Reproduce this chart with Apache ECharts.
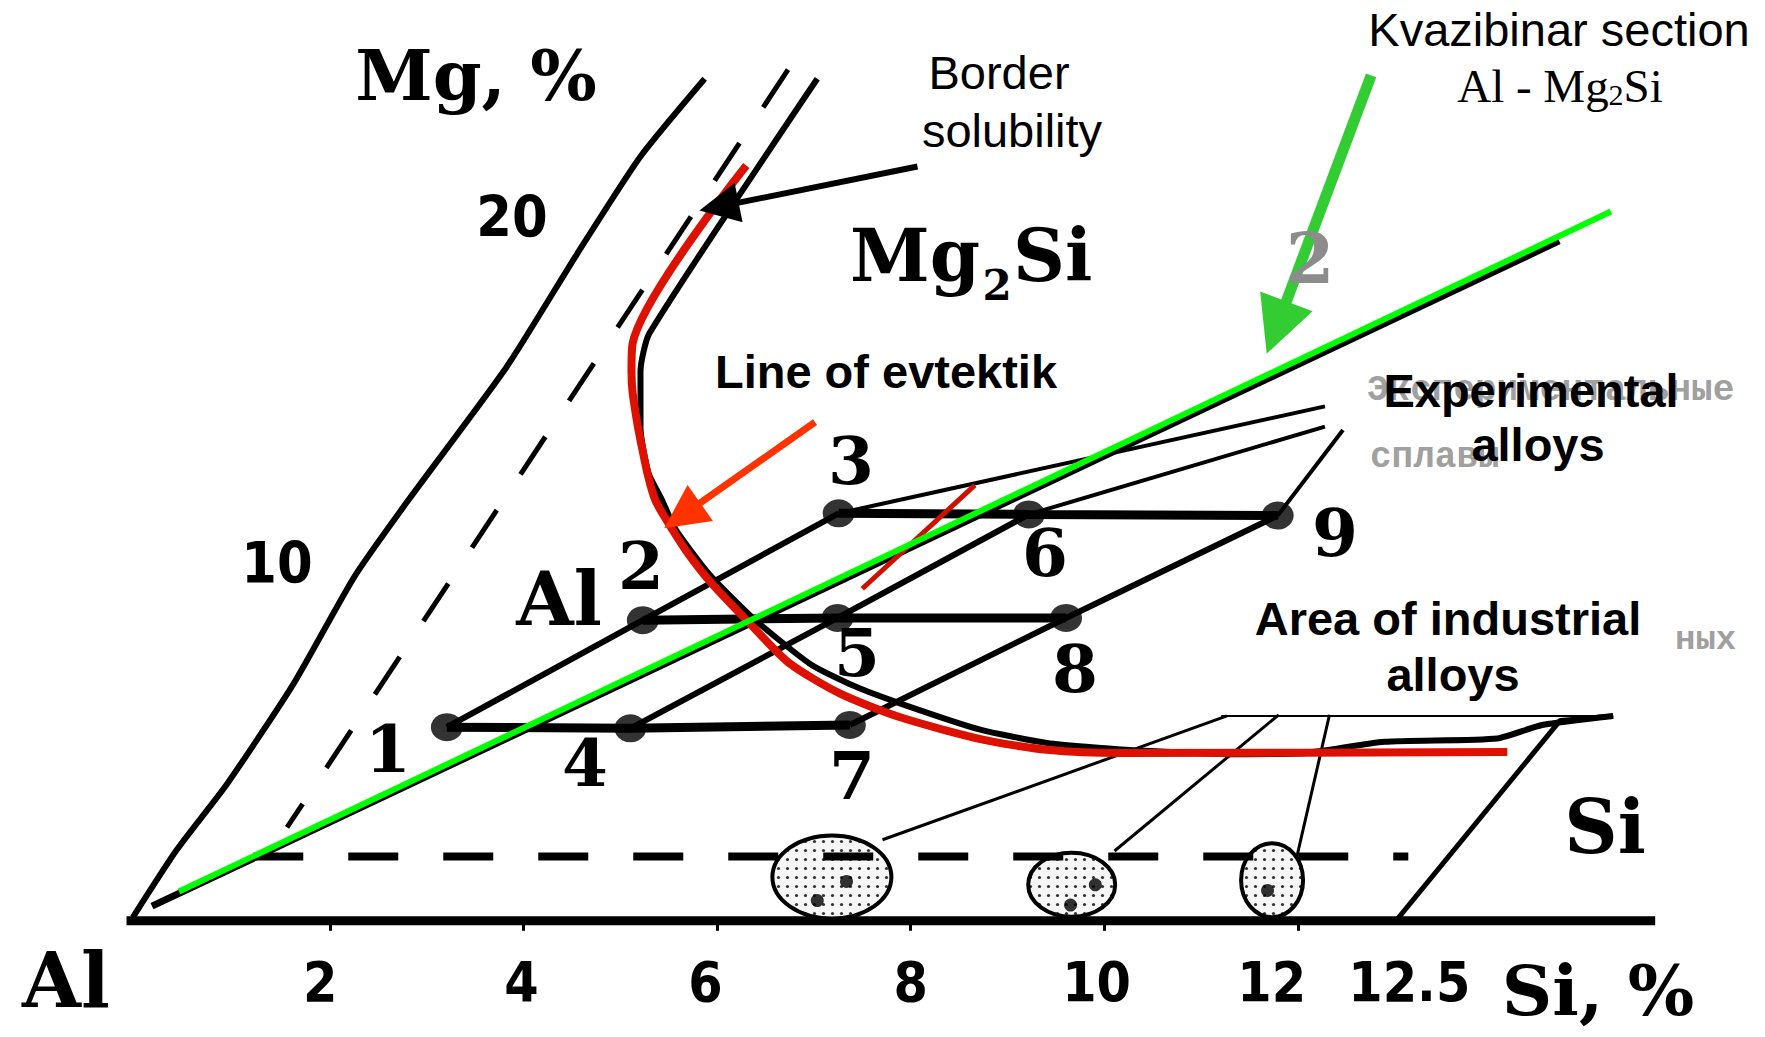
<!DOCTYPE html>
<html><head><meta charset="utf-8">
<script src="https://cdn.jsdelivr.net/npm/echarts@6/dist/echarts.min.js"></script>
<style>html,body{margin:0;padding:0;background:#fff}#c{width:1765px;height:1037px}</style>
</head><body><div id="c"></div>
<script>
// Coordinates: x = Si, % ; y = height above the Si axis, in the same %-units.
const siTicks = [2, 4, 6, 8, 10, 12];
const tickLabelText = ['2', '4', '6', '8', '10', '12', '12.5'];
const tickLabelAt = [1.90, 3.98, 5.88, 8.00, 9.92, 11.73, 13.15];

const siAxisLine = [[-0.10, 0], [15.69, 0]];
const mgAxisLine = [[-0.035, 0.035], [0.419, 0.733], [0.942, 1.419], [1.628, 2.453], [2.256, 3.558], [2.814, 4.349], [3.826, 5.721], [4.558, 6.895], [5.209, 7.895], [5.872, 8.698]];
const solubilityLine = [[6.733, 8.791], [1.558, 0.965]];
const eutecticBlack = [[7.035, 8.698], [5.302, 6.070], [5.209, 5.674], [5.209, 5.093], [5.291, 4.628], [5.430, 4.349], [5.570, 4.047], [5.919, 3.581], [6.384, 3.116], [6.965, 2.651], [7.430, 2.419], [7.895, 2.244], [8.709, 1.977], [9.407, 1.837], [10.221, 1.767], [11.384, 1.721], [12.081, 1.733], [12.895, 1.849], [14.058, 1.884], [14.523, 2.023], [15.256, 2.116]];
const eutecticRed = [[6.302, 7.802], [5.128, 5.965], [5.116, 5.674], [5.128, 5.453], [5.174, 5.151], [5.209, 4.965], [5.279, 4.628], [5.360, 4.349], [5.477, 4.140], [5.686, 3.814], [5.942, 3.488], [6.372, 3.035], [6.744, 2.663], [7.267, 2.349], [7.884, 2.105], [8.744, 1.872], [9.407, 1.767], [10.174, 1.733], [14.163, 1.744]];
const sectionBlack = [[0.163, 0.151], [14.698, 7.023]];
const sectionGreen = [[0.442, 0.302], [15.233, 7.326]];

const alloyNames = ['1', '2', '3', '4', '5', '6', '7', '8', '9'];
const alloyPoints = [[3.209, 2.000], [5.233, 3.105], [7.256, 4.209], [5.105, 1.988], [7.244, 3.128], [9.221, 4.198], [7.372, 2.023], [9.605, 3.128], [11.791, 4.186]];
const rows = [[0, 3, 6], [1, 4, 7], [2, 5, 8]];
const diagonals = [[0, 1, 2], [3, 4, 5], [6, 7, 8]];
const expLeaders = [[2, [12.279, 5.314]], [5, [12.279, 5.105]], [8, [12.465, 5.070]]];

const indLeaders = [[[7.709, 0.837], [11.267, 2.116]], [[10.105, 0.721], [11.802, 2.128]], [[11.965, 0.558], [12.326, 2.128]]];
const line125 = [[13.012, 0], [14.709, 2.070], [15.256, 2.116]];
const topEdge = [[11.209, 2.116], [15.256, 2.116]];
const siDashed = [[1.209, 0.663], [13.14, 0.663]];
const ovalCenters = [[7.186, 0.453], [9.663, 0.372], [11.733, 0.419]];
const ovalSpots = [[7.337, 0.407], [7.035, 0.209], [9.907, 0.372], [9.651, 0.163], [11.686, 0.314]];

const borderArrow = [[8.070, 7.791], [6.020, 7.377]];
const sectionArrow = [[12.756, 8.733], [11.779, 6.128]];
const eutecticArrow = [[7.012, 5.151], [5.640, 4.186]];
const redMark = [[8.663, 4.50], [7.50, 3.43]];

// ---- styles ----
const ovalSizes = [[119, 83], [87, 64], [62, 74]];
const SERIF_B = '"DejaVu Serif", "Liberation Serif", serif';
const NUMF = '"DejaVu Sans Condensed", "Liberation Sans Narrow", "DejaVu Sans", sans-serif';
const SANS = '"Liberation Sans", Arial, sans-serif';

// stipple pattern for the Si particles
const dot = document.createElement('canvas');
dot.width = 9; dot.height = 9;
(function () {
  const g = dot.getContext('2d');
  g.fillStyle = '#f6f6f6'; g.fillRect(0, 0, 9, 9);
  g.fillStyle = '#333333'; g.beginPath(); g.arc(4.5, 4.5, 1.6, 0, Math.PI * 2); g.fill();
})();
const dotUrl = dot.toDataURL('image/png');

function line(data, color, width, z, extra) {
  return Object.assign({ type: 'line', data: data, symbol: 'none', showSymbol: false, silent: true, clip: false,
    lineStyle: { color: color, width: width }, z: z, animation: false }, extra || {});
}
function arrow(coords, color, width, size, z) {
  return { type: 'lines', coordinateSystem: 'cartesian2d', silent: true, clip: false,
    symbol: ['none', 'triangle'], symbolSize: size, z: z, animation: false,
    lineStyle: { color: color, width: width, opacity: 1, curveness: 0 }, itemStyle: { color: color },
    data: [{ coords: coords }] };
}

const series = [];
series.push(line(siAxisLine, '#000', 9, 3));
series.push(line(mgAxisLine, '#000', 6, 3, { smooth: 0.2 }));
series.push(line(solubilityLine, '#000', 5, 3, { lineStyle: { color: '#000', width: 5, type: [45, 43] } }));
series.push(line(eutecticBlack, '#000', 6, 3, { smooth: 0.2 }));
series.push(line(sectionBlack, '#000', 7, 3));
rows.forEach(r => series.push(line(r.map(i => alloyPoints[i]), '#000', 9, 3)));
diagonals.forEach(r => series.push(line(r.map(i => alloyPoints[i]), '#000', 6, 3)));
expLeaders.forEach(l => series.push(line([alloyPoints[l[0]], l[1]], '#000', 4, 3)));
indLeaders.forEach(l => series.push(line(l, '#000', 3, 3)));
series.push(line(line125, '#000', 5, 3));
series.push(line(topEdge, '#000', 2, 3));
series.push({ type: 'custom', coordinateSystem: 'cartesian2d', z: 4, silent: true, animation: false, clip: false,
  data: ovalCenters.map((c, i) => [c[0], c[1], i]),
  renderItem: function (params, api) {
    const p = api.coord([api.value(0), api.value(1)]);
    const s = ovalSizes[api.value(2)];
    return { type: 'ellipse', shape: { cx: p[0], cy: p[1], rx: s[0] / 2, ry: s[1] / 2 },
      style: { fill: { image: dotUrl, repeat: 'repeat', imageWidth: 9, imageHeight: 9 }, stroke: '#000', lineWidth: 4 } };
  } });
series.push({ type: 'scatter', data: ovalSpots, symbol: 'circle', symbolSize: 13, z: 5, silent: true, animation: false, clip: false, itemStyle: { color: '#000' } });
series.push(line(siDashed, '#000', 8, 5, { lineStyle: { color: '#000', width: 8, type: [50, 45] } }));
series.push({ type: 'scatter', data: alloyPoints, symbol: 'circle', symbolSize: [32, 28], z: 5, silent: true, animation: false, clip: false, itemStyle: { color: '#000' } });
series.push(line(eutecticRed, '#dd1100', 8, 6, { smooth: 0.25 }));
series.push(line(redMark, '#cc1100', 5, 6));
series.push(line(sectionGreen, '#00ff00', 6, 7));
series.push(arrow(borderArrow, '#000', 6, [30, 40], 8));
series.push(arrow(sectionArrow, '#33cc33', 11, [64, 56], 8));
series.push(arrow(eutecticArrow, '#ff3300', 7, [44, 44], 8));

function t(text, x, y, font, extra) {
  return { type: 'text', x: x, y: y, z: 100, silent: true,
    style: Object.assign({ text: text, font: font, fill: '#000', align: 'center', verticalAlign: 'middle' }, extra || {}) };
}
const pointLabelPos = [[388, 749], [641, 566], [851, 461], [585, 763], [857, 653], [1045, 553], [852, 776], [1075, 669], [1335, 533]];
const graphics = [
  t('Экспериментальные', 1367, 390, 'bold 36px "Liberation Mono", monospace', { align: 'left', fill: '#a0a0a0' }),
  t('сплавы', 1370, 457, 'bold 36px "Liberation Mono", monospace', { align: 'left', fill: '#a0a0a0' }),
  t('ных', 1675, 640, 'bold 34px "Liberation Mono", monospace', { align: 'left', fill: '#a0a0a0' }),
  t('2', 1310, 258, 'bold 70px ' + SERIF_B, { fill: '#8c8c8c' }),
  t('Mg, %', 476, 75, 'bold 70px ' + SERIF_B),
  t('20', 512, 217, 'bold 57px ' + NUMF),
  t('10', 277, 563, 'bold 57px ' + NUMF),
  t('Mg', 980, 255, 'bold 72px ' + SERIF_B, { align: 'right' }),
  t('2', 997, 285, 'bold 42px ' + SERIF_B),
  t('Si', 1013, 255, 'bold 72px ' + SERIF_B, { align: 'left' }),
  t('Al', 559, 599, 'bold 74px ' + SERIF_B),
  t('Al', 66, 980, 'bold 76px ' + SERIF_B),
  t('Si, %', 1598, 990, 'bold 70px ' + SERIF_B),
  t('Si', 1605, 827, 'bold 74px ' + SERIF_B),
  t('Border', 999, 72, '47px ' + SANS),
  t('solubility', 1012, 130, '47px ' + SANS),
  t('Kvazibinar section', 1559, 29, '47px ' + SANS),
  { type: 'text', x: 1560, y: 86, z: 100, silent: true, style: { text: '{a|Al - Mg}{b|2}{a|Si}', align: 'center', verticalAlign: 'middle', fill: '#000',
    rich: { a: { font: '47px "Liberation Serif", serif', fill: '#000' }, b: { font: '30px "Liberation Serif", serif', fill: '#000', verticalAlign: 'bottom' } } } },
  t('Line of evtektik', 886, 371, 'bold 47px ' + SANS),
  t('Experimental', 1531, 390, 'bold 47px ' + SANS),
  t('alloys', 1538, 444, 'bold 47px ' + SANS),
  t('Area of industrial', 1448, 618, 'bold 47px ' + SANS),
  t('alloys', 1453, 674, 'bold 47px ' + SANS)
];
alloyNames.forEach((n, i) => graphics.push(t(n, pointLabelPos[i][0], pointLabelPos[i][1], 'bold 66px ' + SERIF_B)));

const chart = echarts.init(document.getElementById('c'), null, { renderer: 'svg', width: 1765, height: 1037 });
chart.setOption({
  animation: false,
  backgroundColor: '#fff',
  grid: { left: 0, right: 0, top: 0, bottom: 116.2, containLabel: false, outerBoundsMode: 'none' },
  xAxis: {
    type: 'value', min: -1.4069, max: 16.8245,
    axisLine: { show: false },
    axisTick: { show: true, customValues: siTicks, length: 10, lineStyle: { color: '#000', width: 3 } },
    axisLabel: { show: true, customValues: tickLabelAt, margin: 34, color: '#000',
      fontFamily: NUMF, fontWeight: 'bold', fontSize: 55,
      formatter: function (v) {
        let best = 0;
        tickLabelAt.forEach((p, i) => { if (Math.abs(p - v) < Math.abs(tickLabelAt[best] - v)) best = i; });
        return tickLabelText[best];
      } },
    splitLine: { show: false }
  },
  yAxis: { type: 'value', min: 0, max: 9.5113, show: false, splitLine: { show: false } },
  series: series,
  graphic: graphics
});
</script></body></html>
